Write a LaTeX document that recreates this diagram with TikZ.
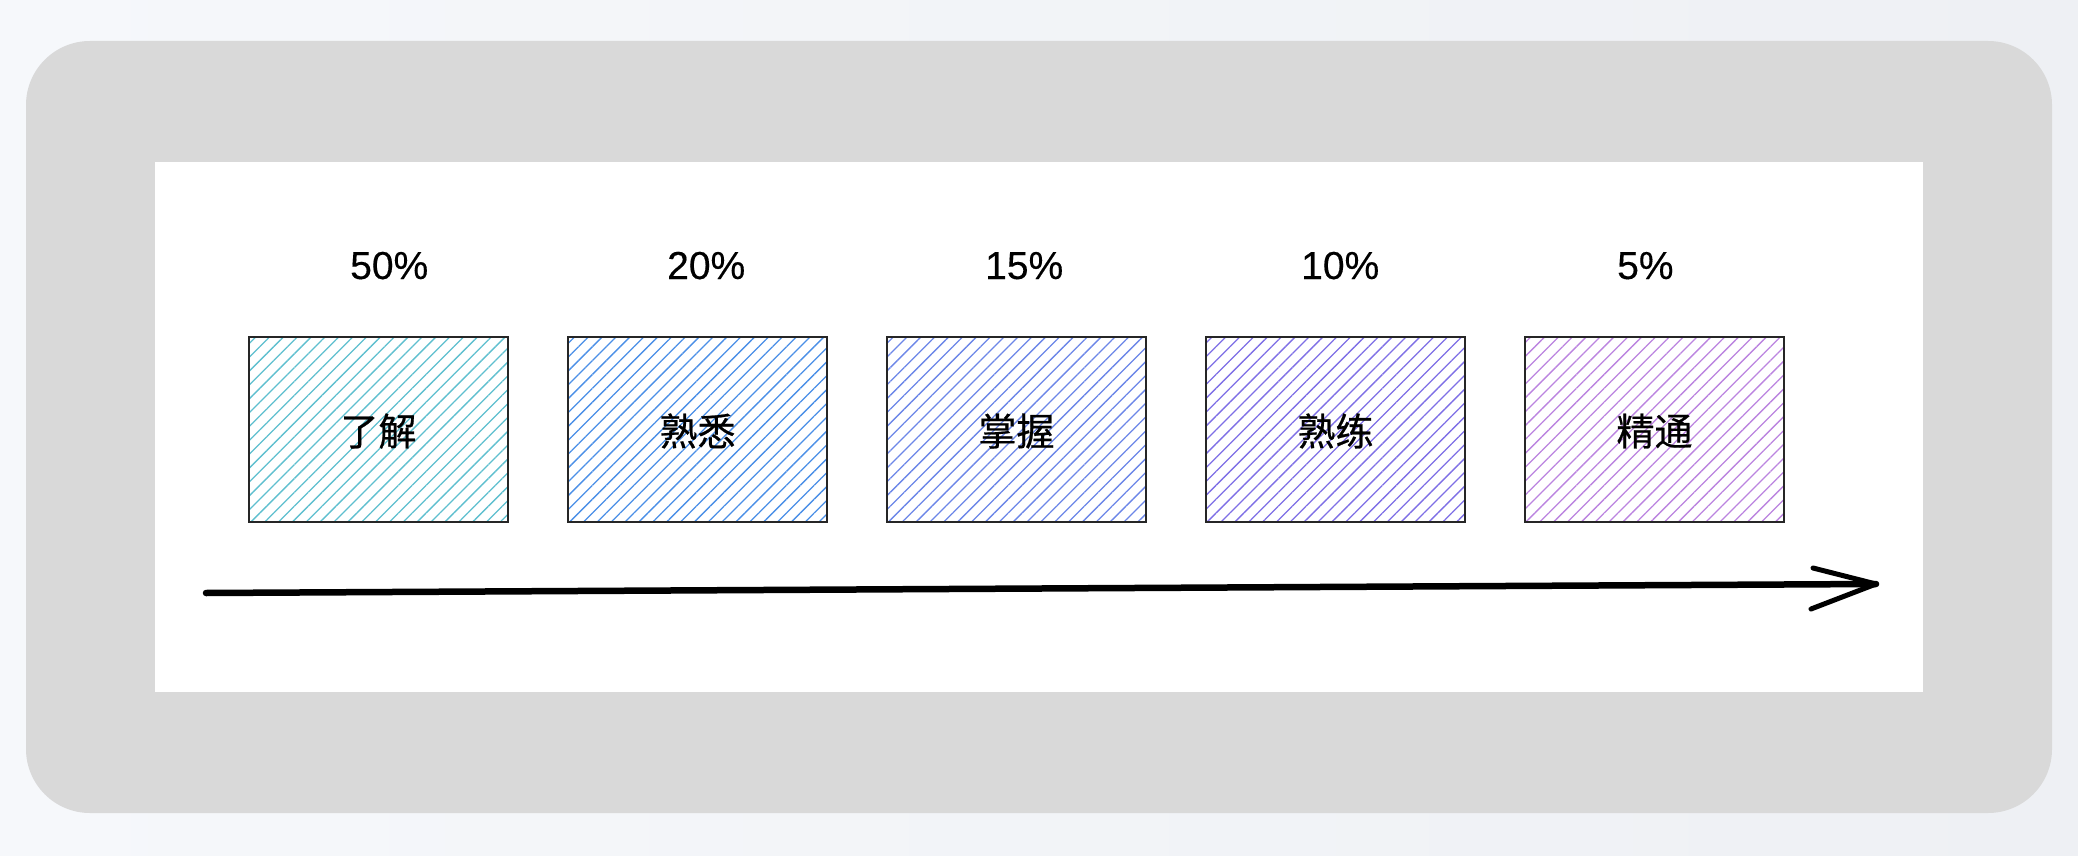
\documentclass[tikz,border=0pt]{standalone}
\usepackage{fontspec}
\newfontfamily\cjk[FakeBold=0.6]{Noto Sans CJK SC}
\newfontfamily\lat[FakeBold=0.3]{Liberation Sans}
\usetikzlibrary{patterns.meta}
\definecolor{bgA}{HTML}{F6F8FB}
\definecolor{bgB}{HTML}{EEF0F4}
\definecolor{panel}{HTML}{D9D9D9}
\definecolor{hA}{HTML}{5EBFCF}
\definecolor{hB}{HTML}{4A8FE7}
\definecolor{hC}{HTML}{6C86E8}
\definecolor{hD}{HTML}{7E6FE6}
\definecolor{hE}{HTML}{BB84E0}
\tikzset{
  stage/.style={draw=black!85, line width=1.8pt, minimum width=259pt, minimum height=185pt,
    inner sep=0pt, text depth=-6pt, font=\cjk\fontsize{38}{44}\selectfont,
    pattern={Lines[angle=45,distance=9.8pt,line width=1.3pt]}, pattern color=#1},
  pct/.style={anchor=base west, inner sep=0pt, font=\lat\fontsize{39}{44}\selectfont},
  axis/.style={line width=6.5pt, line cap=round},
  barb/.style={line width=5pt, line cap=round}
}
\begin{document}
\begin{tikzpicture}[x=1pt,y=-1pt]
\useasboundingbox (0,0) rectangle (2078,856);
\shade[left color=bgA, right color=bgB] (0,0) rectangle (2078,856);
\fill[panel, rounded corners=64pt] (26,41) rectangle (2052,813);
\fill[white] (155,162) rectangle (1923,692);

\node[stage=hA] (b1) at (378.5,429.5) {了解};
\node[stage=hB] (b2) at (697.5,429.5) {熟悉};
\node[stage=hC] (b3) at (1016.5,429.5) {掌握};
\node[stage=hD] (b4) at (1335.5,429.5) {熟练};
\node[stage=hE] (b5) at (1654.5,429.5) {精通};

\node[pct] (p1) at (350,279) {50\%};
\node[pct] (p2) at (667,279) {20\%};
\node[pct] (p3) at (985,279) {15\%};
\node[pct] (p4) at (1301,279) {10\%};
\node[pct] (p5) at (1617,279) {5\%};

\coordinate (as) at (206,593);
\coordinate (ae) at (1876,584);
\draw[axis] (as) -- (ae);
\draw[barb] (ae) -- ++(-63,-16);
\draw[barb] (ae) -- ++(-65,25);
\end{tikzpicture}
\end{document}
